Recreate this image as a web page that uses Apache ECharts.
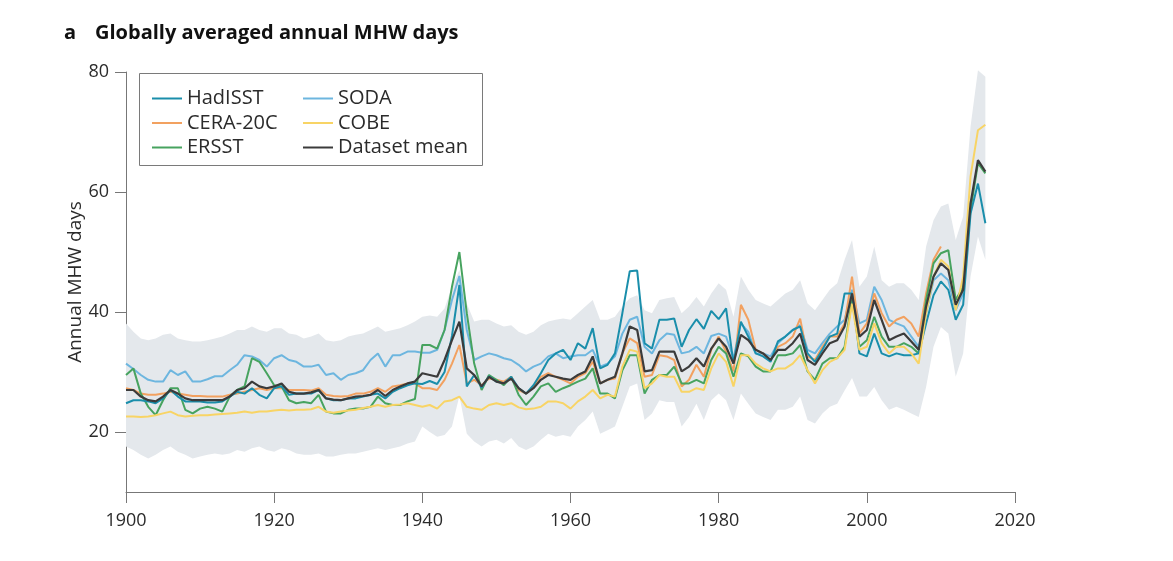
<!DOCTYPE html>
<html>
<head>
<meta charset="utf-8">
<script src="https://cdn.jsdelivr.net/npm/echarts@6/dist/echarts.min.js"></script>
<style>
  html, body { margin: 0; padding: 0; background: #fff; }
  #chart { width: 1173px; height: 561px; }
</style>
</head>
<body>
<div id="chart"></div>
<script>
// annual values 1900..2016, one per year
const startYear = 1900

const hadisst = [
  24.8, 25.3, 25.3, 25.1, 24.8, 25.6, 27.0, 25.9, 25.1, 25.1,
  25.1, 24.9, 24.9, 25.1, 25.9, 26.7, 26.4, 27.3, 26.2, 25.6,
  27.3, 27.6, 26.2, 26.4, 26.4, 26.4, 27.0, 25.6, 25.3, 25.3,
  25.6, 25.6, 25.9, 26.2, 26.4, 25.6, 26.7, 27.3, 27.8, 28.1,
  28.0, 28.5, 28.0, 30.0, 36.0, 44.5, 27.6, 29.5, 27.4, 29.3,
  28.4, 28.1, 29.2, 27.3, 26.4, 27.8, 29.8, 32.0, 33.1, 33.7,
  32.0, 34.8, 33.9, 37.3, 30.6, 31.2, 33.1, 39.8, 46.8, 46.9,
  34.8, 33.9, 38.7, 38.7, 38.9, 34.2, 37.0, 38.8, 37.2, 40.2,
  38.8, 40.6, 31.4, 38.4, 35.9, 33.1, 32.6, 31.7, 35.1, 35.9,
  37.0, 37.6, 33.1, 31.7, 33.7, 35.9, 36.4, 43.1, 43.1, 33.1,
  32.6, 36.4, 33.1, 32.6, 33.1, 32.8, 32.8, 33.1, 38.1, 42.8,
  45.1, 43.7, 38.7, 41.2, 56.4, 61.4, 54.8
]

const soda = [
  31.4, 30.5, 29.5, 28.7, 28.4, 28.4, 30.3, 29.5, 30.1, 28.4,
  28.4, 28.8, 29.3, 29.3, 30.3, 31.2, 32.8, 32.6, 32.0, 30.9,
  32.3, 32.8, 32.0, 31.7, 30.9, 30.9, 31.2, 29.5, 29.8, 28.7,
  29.5, 29.8, 30.3, 32.0, 33.1, 30.9, 32.8, 32.8, 33.4, 33.4,
  33.2, 33.2, 33.7, 37.0, 42.0, 46.0, 37.0, 32.0, 32.6, 33.1,
  32.8, 32.3, 32.0, 31.2, 30.1, 30.9, 31.4, 32.6, 33.1, 32.3,
  32.6, 32.8, 32.8, 33.7, 30.9, 31.4, 32.6, 36.4, 38.7, 39.2,
  34.2, 33.1, 35.3, 36.4, 36.2, 33.1, 33.4, 34.2, 33.1, 36.0,
  36.4, 35.9, 32.3, 38.1, 36.7, 33.1, 33.1, 32.6, 34.8, 35.9,
  37.0, 37.8, 33.7, 33.1, 34.8, 36.4, 37.6, 38.7, 43.7, 38.1,
  38.7, 44.2, 42.0, 38.7, 38.1, 37.6, 35.9, 34.2, 39.8, 45.3,
  46.4, 45.3, 40.3, 43.1, null, null, null
]

const cera20c = [
  27.3, 27.0, 26.4, 26.2, 26.2, 26.4, 26.7, 26.4, 26.2, 26.0,
  26.0, 25.9, 25.9, 25.9, 26.2, 26.4, 26.7, 27.0, 27.3, 27.0,
  27.3, 27.3, 27.0, 27.0, 27.0, 26.9, 27.3, 26.2, 26.0, 25.9,
  26.0, 26.4, 26.4, 26.7, 27.3, 26.7, 27.6, 27.8, 28.1, 28.1,
  27.3, 27.3, 27.0, 28.7, 31.4, 34.5, 28.1, 28.7, 27.8, 28.9,
  28.7, 28.4, 29.2, 27.0, 26.4, 27.6, 29.2, 29.8, 29.2, 28.7,
  28.1, 29.2, 29.8, 31.7, 28.1, 28.7, 28.9, 33.1, 35.6, 34.8,
  29.2, 29.5, 32.8, 32.6, 32.0, 27.6, 28.7, 31.2, 29.2, 33.7,
  35.9, 33.4, 30.1, 41.2, 38.7, 33.7, 33.1, 32.0, 34.2, 34.8,
  35.9, 38.9, 32.6, 32.0, 34.2, 35.9, 35.9, 38.1, 45.9, 36.4,
  38.1, 43.1, 39.8, 37.6, 38.7, 39.2, 38.1, 35.9, 43.1, 48.7,
  50.9, null, null, null, null, null, null
]

const cobe = [
  22.6, 22.6, 22.5, 22.6, 22.8, 23.1, 23.4, 22.8, 22.6, 22.7,
  22.8, 22.8, 22.9, 23.0, 23.1, 23.2, 23.4, 23.2, 23.4, 23.4,
  23.6, 23.7, 23.6, 23.7, 23.7, 23.8, 24.2, 23.4, 23.2, 23.4,
  23.6, 23.7, 24.0, 24.2, 24.5, 24.2, 24.5, 24.6, 24.8, 24.5,
  24.2, 24.5, 23.9, 25.1, 25.3, 25.9, 24.2, 23.9, 23.7, 24.5,
  24.8, 24.5, 24.8, 24.1, 23.8, 23.9, 24.2, 25.1, 25.1, 24.8,
  23.9, 25.1, 25.9, 27.0, 25.6, 26.2, 25.9, 30.9, 33.7, 33.4,
  27.3, 28.1, 29.5, 29.2, 29.2, 26.7, 26.7, 27.3, 27.0, 30.6,
  33.1, 31.7, 27.6, 32.8, 32.8, 31.4, 30.6, 30.1, 30.6, 30.6,
  31.4, 32.8, 30.3, 28.1, 30.3, 31.7, 32.3, 33.7, 41.4, 33.7,
  34.2, 38.1, 34.8, 33.1, 34.2, 34.2, 33.1, 31.4, 39.8, 45.9,
  48.7, 47.6, 40.3, 45.9, 62.6, 70.3, 71.2
]

const ersst = [
  29.5, 30.6, 26.4, 24.2, 22.8, 25.3, 27.3, 27.3, 23.7, 23.1,
  23.9, 24.2, 23.9, 23.4, 25.9, 27.0, 27.6, 32.3, 31.7, 29.8,
  27.8, 27.6, 25.3, 24.8, 25.0, 24.8, 26.2, 23.4, 23.1, 23.1,
  23.7, 23.9, 23.9, 24.2, 25.9, 24.8, 24.5, 24.5, 25.1, 25.5,
  34.5, 34.5, 33.9, 37.0, 44.2, 50.0, 39.8, 31.4, 27.0, 29.5,
  28.7, 27.8, 29.2, 26.2, 24.5, 25.9, 27.6, 28.1, 26.7, 27.3,
  27.8, 28.4, 28.9, 30.6, 26.4, 26.4, 25.6, 30.3, 32.8, 32.8,
  26.4, 28.7, 29.5, 29.5, 30.9, 28.1, 28.1, 28.7, 28.1, 32.0,
  34.2, 33.1, 29.2, 33.1, 32.6, 30.9, 30.1, 30.1, 32.8, 32.8,
  33.1, 34.5, 30.1, 28.7, 31.4, 32.3, 32.3, 34.2, 42.0, 34.2,
  35.3, 39.2, 35.9, 34.2, 34.2, 34.8, 34.2, 33.1, 42.0, 48.1,
  49.8, 50.3, 42.0, 44.2, 57.0, 64.8, 63.1
]

const datasetMean = [
  27.0, 27.0, 25.9, 25.3, 25.1, 25.9, 27.0, 26.4, 25.6, 25.3,
  25.3, 25.3, 25.3, 25.3, 25.9, 27.0, 27.3, 28.4, 27.6, 27.3,
  27.6, 28.1, 26.7, 26.4, 26.4, 26.6, 27.0, 25.6, 25.4, 25.3,
  25.6, 25.9, 26.0, 26.2, 27.0, 26.0, 27.0, 27.6, 28.1, 28.4,
  29.8, 29.5, 29.2, 32.0, 35.3, 38.4, 30.6, 29.5, 27.6, 29.2,
  28.4, 28.1, 28.9, 27.3, 26.4, 27.3, 28.7, 29.5, 29.2, 28.9,
  28.7, 29.5, 30.1, 32.6, 28.1, 28.7, 29.2, 33.1, 37.6, 37.0,
  30.1, 30.3, 33.4, 33.4, 33.4, 30.1, 30.9, 32.3, 30.9, 33.9,
  35.6, 34.2, 31.4, 36.2, 35.3, 33.7, 33.1, 32.0, 33.7, 33.7,
  34.8, 36.4, 32.0, 31.2, 33.1, 34.8, 35.3, 37.6, 43.1, 35.9,
  37.0, 42.0, 38.7, 35.3, 35.9, 36.4, 35.1, 33.7, 40.9, 45.9,
  48.1, 47.0, 41.2, 43.7, 58.1, 65.3, 63.4
]

// grey envelope
const bandUpper = [
  38.1, 36.7, 35.6, 35.3, 35.6, 36.2, 36.4, 35.6, 35.3, 35.1,
  35.1, 35.3, 35.6, 35.9, 36.4, 37.0, 37.0, 37.6, 37.0, 36.7,
  37.3, 37.3, 36.4, 36.2, 35.6, 35.9, 36.4, 35.3, 35.1, 35.3,
  35.9, 36.2, 36.4, 37.0, 37.6, 36.7, 37.0, 37.3, 37.8, 38.4,
  39.2, 39.4, 39.2, 40.6, 44.2, 47.0, 41.4, 38.4, 38.7, 38.7,
  38.1, 37.6, 37.8, 36.7, 36.2, 36.7, 37.8, 38.4, 38.7, 38.9,
  38.7, 39.8, 40.9, 42.0, 38.7, 38.7, 39.2, 40.9, 42.3, 42.8,
  40.3, 39.8, 42.0, 42.3, 42.5, 39.8, 40.9, 42.5, 40.9, 43.1,
  44.8, 43.7, 39.2, 45.9, 43.7, 42.0, 41.4, 40.9, 42.0, 43.1,
  43.7, 45.3, 41.4, 40.3, 42.0, 43.7, 44.8, 48.7, 52.0, 44.2,
  45.9, 50.9, 45.3, 44.2, 44.8, 44.8, 43.7, 42.0, 50.9, 55.3,
  57.6, 58.1, 52.0, 55.9, 70.9, 80.3, 79.2
]

const bandLower = [
  17.6, 17.0, 16.2, 15.6, 16.2, 17.0, 17.6, 16.7, 16.2, 15.6,
  15.9, 16.2, 16.4, 16.2, 16.4, 17.0, 16.7, 17.3, 17.6, 17.0,
  16.7, 17.3, 17.0, 16.4, 16.2, 16.2, 16.4, 15.9, 15.9, 16.2,
  16.4, 16.4, 16.7, 17.0, 17.3, 17.0, 17.3, 17.6, 18.1, 18.4,
  20.9, 20.0, 19.2, 19.5, 20.9, 26.0, 19.7, 18.4, 17.6, 18.4,
  18.7, 18.1, 19.0, 17.6, 17.0, 17.6, 18.7, 19.7, 19.2, 19.5,
  19.2, 20.9, 22.0, 23.4, 19.7, 20.3, 20.9, 24.2, 27.6, 28.1,
  22.0, 23.1, 25.3, 25.0, 25.0, 20.9, 22.5, 24.7, 22.0, 25.3,
  26.4, 25.3, 22.0, 26.4, 24.7, 23.1, 22.5, 22.0, 23.7, 23.7,
  24.2, 25.9, 22.0, 21.4, 23.1, 24.2, 24.7, 26.9, 29.0, 25.9,
  25.9, 27.5, 25.3, 23.7, 24.2, 23.7, 23.1, 22.5, 27.5, 34.2,
  37.5, 36.4, 29.2, 33.1, 45.9, 52.6, 48.7
]

const xTicks = [1900, 1920, 1940, 1960, 1980, 2000, 2020]
const yTicks = [20, 40, 60, 80]

function pairs(values) {
  return values.map((v, i) => [startYear + i, v])
}

const textColor = '#2b2b2b'
const axisColor = '#777'
const fontFamily = '"Open Sans", "Noto Sans", sans-serif'

function lineSeries(name, values, color, width) {
  return {
    name: name,
    type: 'line',
    data: pairs(values),
    showSymbol: false,
    symbol: 'none',
    connectNulls: false,
    lineStyle: { color: color, width: width || 2 },
    itemStyle: { color: color },
    z: 3
  }
}

// band drawn as one polygon: lower edge left->right, upper edge right->left
function renderBand(params, api) {
  if (params.dataIndex !== 0) return null
  const pts = []
  for (let i = 0; i < bandLower.length; i++) {
    pts.push(api.coord([startYear + i, bandLower[i]]))
  }
  for (let i = bandUpper.length - 1; i >= 0; i--) {
    pts.push(api.coord([startYear + i, bandUpper[i]]))
  }
  return {
    type: 'polygon',
    shape: { points: pts },
    style: { fill: '#e4e8ec', stroke: null },
    silent: true
  }
}

const legendText = { fontSize: 20, color: textColor, fontFamily: fontFamily, lineHeight: 23 }

const option = {
  animation: false,
  backgroundColor: '#fff',
  title: {
    left: 59,
    top: 18,
    text: '{a|a}{b|Globally averaged annual MHW days}',
    textStyle: {
      rich: {
        a: { fontSize: 20, fontWeight: 'bold', color: '#111', fontFamily: fontFamily, width: 31 },
        b: { fontSize: 20, fontWeight: 'bold', color: '#111', fontFamily: fontFamily }
      }
    }
  },
  grid: { left: 126, right: 158, top: 72, bottom: 69, containLabel: false },
  xAxis: {
    type: 'value',
    min: 1900,
    max: 2020,
    interval: 20,
    axisLine: { show: true, lineStyle: { color: axisColor, width: 1 } },
    axisTick: { show: true, length: 11, customValues: xTicks, lineStyle: { color: axisColor } },
    axisLabel: {
      color: textColor, fontSize: 18, margin: 20, fontFamily: fontFamily,
      customValues: xTicks,
      formatter: v => String(v)
    },
    splitLine: { show: false }
  },
  yAxis: {
    type: 'value',
    min: 10,
    max: 80,
    name: 'Annual MHW days',
    nameLocation: 'middle',
    nameGap: 41,
    nameMoveOverlap: false,
    nameTextStyle: { color: textColor, fontSize: 19, fontFamily: fontFamily },
    axisLine: { show: true, lineStyle: { color: axisColor, width: 1 } },
    axisTick: { show: true, length: 11, customValues: yTicks, lineStyle: { color: axisColor } },
    axisLabel: { color: textColor, fontSize: 18, margin: 17, customValues: yTicks, fontFamily: fontFamily },
    splitLine: { show: false }
  },
  legend: [
    {
      orient: 'vertical',
      left: 147,
      top: 82,
      itemWidth: 30,
      itemHeight: 2,
      itemGap: 1.5,
      icon: 'rect',
      textStyle: legendText,
      data: ['HadISST', 'CERA-20C', 'ERSST']
    },
    {
      orient: 'vertical',
      left: 298,
      top: 82,
      itemWidth: 30,
      itemHeight: 2,
      itemGap: 1.5,
      icon: 'rect',
      textStyle: legendText,
      data: ['SODA', 'COBE', 'Dataset mean']
    }
  ],
  graphic: [
    {
      type: 'rect',
      left: 139,
      top: 73,
      shape: { width: 343, height: 92 },
      style: { fill: 'rgba(255,255,255,0)', stroke: '#7a7a7a', lineWidth: 1 },
      z: 10
    }
  ],
  series: [
    {
      name: 'band',
      type: 'custom',
      renderItem: renderBand,
      data: bandLower.map((v, i) => [startYear + i, v, bandUpper[i]]),
      encode: { x: 0, y: [1, 2] },
      silent: true,
      z: 1
    },
    lineSeries('SODA', soda, '#6db6df'),
    lineSeries('CERA-20C', cera20c, '#f2a160'),
    lineSeries('ERSST', ersst, '#47a35f'),
    lineSeries('HadISST', hadisst, '#1a8eab'),
    lineSeries('COBE', cobe, '#f8d465'),
    lineSeries('Dataset mean', datasetMean, '#3b3b3b', 2.2)
  ]
}

const chart = echarts.init(document.getElementById('chart'))
chart.setOption(option)
</script>
</body>
</html>
